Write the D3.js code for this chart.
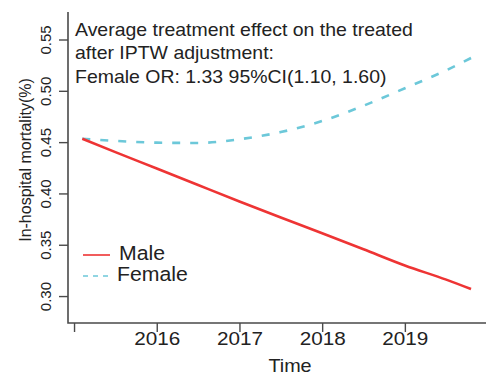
<!DOCTYPE html>
<html><head><meta charset="utf-8">
<script src="https://cdn.jsdelivr.net/npm/d3@7"></script>
<style>body{margin:0;background:#fff}svg{display:block}text{font-family:"Liberation Sans",Arial,sans-serif;fill:#222}</style>
</head><body><svg id="c" width="494" height="376"></svg>
<script>
const years = [2015.1, 2015.5, 2016.0, 2016.5, 2017.0, 2017.5, 2018.0, 2018.5, 2019.0, 2019.5, 2019.8];
const male = [0.4533, 0.4403, 0.4243, 0.4082, 0.3922, 0.3766, 0.3612, 0.3456, 0.3298, 0.3160, 0.3068];
const female = [0.4533, 0.4512, 0.4495, 0.4492, 0.4528, 0.4598, 0.4706, 0.4855, 0.5025, 0.5200, 0.5320];
const xTicks = [2015, 2016, 2017, 2018, 2019];
const xTickLabels = ["", "2016", "2017", "2018", "2019"];
const yTicks = [0.30, 0.35, 0.40, 0.45, 0.50, 0.55];
const seriesNames = ["Male", "Female"];
const seriesColors = ["#ee3434", "#6cc8d9"];
const annotation = ["Average treatment effect on the treated", "after IPTW adjustment:", "Female OR: 1.33 95%CI(1.10, 1.60)"];

const svg = d3.select("#c");
const L = 68, R = 486, T = 12, B = 323;
const x = d3.scaleLinear().domain([2014.927, 2019.981]).range([L, R]);
const y = d3.scaleLinear().domain([0.27375, 0.5768]).range([B, T]);
const axisCol = "#4a4a4a";

// box lines (L shape)
svg.append("path").attr("d", `M${L},${T}V${B}H${R}`).attr("fill","none").attr("stroke",axisCol).attr("stroke-width",1.6);

// y axis
const ya = svg.append("g").attr("transform", `translate(${L},0)`)
  .call(d3.axisLeft(y).tickValues(yTicks).tickSize(9).tickFormat(d3.format(".2f")));
ya.select(".domain").remove();
ya.selectAll("line").attr("stroke", axisCol).attr("stroke-width", 1.4);
ya.selectAll("text").attr("font-size", 15).attr("fill", "#222").attr("text-anchor","middle")
  .attr("x", null).attr("dy", null)
  .attr("transform", "translate(-17,0) rotate(-90)");

// x axis
const xa = svg.append("g").attr("transform", `translate(0,${B})`)
  .call(d3.axisBottom(x).tickValues(xTicks).tickSize(9).tickFormat((d,i)=>xTickLabels[i]));
xa.select(".domain").remove();
xa.selectAll("line").attr("stroke", axisCol).attr("stroke-width", 1.4);
xa.selectAll("text").attr("font-size", 18).attr("fill", "#222").attr("y", null).attr("dy", null)
  .attr("transform", "translate(0,22) scale(1.15,1)");

// axis titles
svg.append("text").attr("transform","translate(290,372) scale(1.1,1)").attr("text-anchor","middle").attr("font-size",18).text("Time");
svg.append("text").attr("transform","translate(31,160) rotate(-90)").attr("text-anchor","middle").attr("font-size",16).text("In-hospital mortality(%)");

// lines
const line = d3.line().x(d=>x(d[0])).y(d=>y(d[1])).curve(d3.curveMonotoneX);
svg.append("path").datum(years.map((t,i)=>[t,female[i]])).attr("d", line)
  .attr("fill","none").attr("stroke",seriesColors[1]).attr("stroke-width",2.6).attr("stroke-dasharray","8,10");
svg.append("path").datum(years.map((t,i)=>[t,male[i]])).attr("d", line)
  .attr("fill","none").attr("stroke",seriesColors[0]).attr("stroke-width",2.6);

// annotation
annotation.forEach((s,i)=>{
  svg.append("text").attr("transform",`translate(75,${36+i*23.4}) scale(1.1,1)`).attr("font-size",17.7).text(s);
});

// legend
const leg = svg.append("g");
seriesNames.forEach((n,i)=>{
  const ly = 255 + i*21;
  leg.append("line").attr("x1",83).attr("x2",110).attr("y1",ly).attr("y2",ly)
    .attr("stroke",seriesColors[i]).attr("stroke-width",1.6).attr("stroke-dasharray", i===1?"5,5":null);
  leg.append("text").attr("transform",`translate(${i===0?119:117},${ly+4.5+i*0.5}) scale(1.09,1)`).attr("font-size",19.5).text(n);
});
</script></body></html>
